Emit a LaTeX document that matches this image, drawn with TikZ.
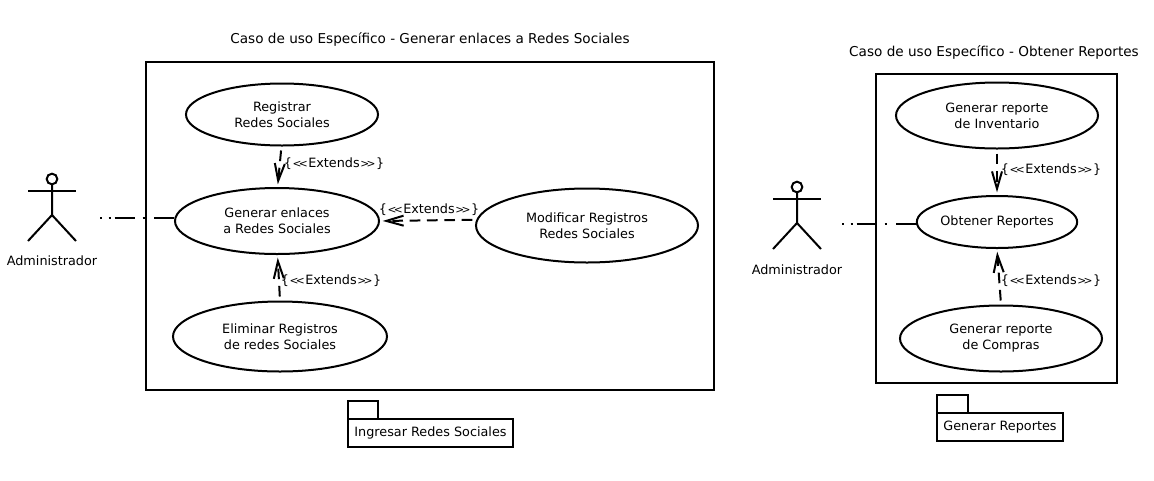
\documentclass[tikz,border=0pt]{standalone}
\usepackage{fontspec}
\setmainfont{DejaVu Sans}
\usetikzlibrary{shapes.geometric,arrows.meta}
\tikzset{
  x=0.75pt,y=-0.75pt,
  line/.style={line width=1.5pt,black},
  uc/.style={line,draw,ellipse,inner sep=0pt,align=center,font=\fontsize{9.6pt}{12pt}\selectfont},
  lbl/.style={inner sep=0pt,font=\fontsize{9.6pt}{12pt}\selectfont},
  titl/.style={inner sep=0pt,font=\fontsize{10.2pt}{12pt}\selectfont},
  ext/.style={line,dash pattern=on 8pt off 5pt,-{Straight Barb[length=13pt,width=7.5pt,line width=1.5pt]},shorten <=3pt,shorten >=2pt},
  assoc/.style={line,dash pattern=on 1.5pt off 5pt on 1.5pt off 3pt on 15pt off 6pt on 1.5pt off 7pt on 30pt},
  frameb/.style={line,draw,inner sep=0pt},
}
\newcommand{\stick}[2]{%
  \begin{scope}[shift={(#1,#2)}]
    \draw[line] (0,0) circle[radius=4pt];
    \draw[line] (-24,12) -- (24,12);
    \draw[line] (0,5.5) -- (0,36) -- (-24,62);
    \draw[line] (0,36) -- (24,62);
  \end{scope}}
\newcommand{\exttext}{\{\kern0.4pt{\fontsize{8pt}{12pt}\selectfont <\kern-2pt<}\kern0.4pt Extends\kern0.4pt{\fontsize{8pt}{12pt}\selectfont >\kern-2pt>}\kern0.4pt\}}
\begin{document}
\begin{tikzpicture}
\useasboundingbox (0,0) rectangle (1154,480);
% frames
\node[frameb,minimum width=426pt,minimum height=246pt] (fa) at (430,226) {};
\node[frameb,minimum width=180.75pt,minimum height=231.75pt] (fb) at (996.5,228.5) {};
\node[titl] (ta) at (430,39) {Caso de uso Específico - Generar enlaces a Redes Sociales};
\node[titl] (tb) at (994,52) {Caso de uso Específico - Obtener Reportes};
% actors
\stick{52}{179}
\stick{797}{187}
\node[lbl] (aa) at (52,261) {Administrador};
\node[lbl] (ab) at (797,270) {Administrador};
\coordinate (ca) at (100,217.5);
\coordinate (cb) at (842,223.5);
% use cases
\node[uc,minimum width=144pt,minimum height=46.5pt] (reg) at (282,114.5) {Registrar\\Redes Sociales};
\node[uc,minimum width=153pt,minimum height=49.5pt] (gen) at (277,221) {Generar enlaces\\a Redes Sociales};
\node[uc,minimum width=166.5pt,minimum height=55.5pt] (mod) at (587,225.5) {Modificar Registros\\Redes Sociales};
\node[uc,minimum width=160.5pt,minimum height=52.5pt] (eli) at (280,336.5) {Eliminar Registros\\de redes Sociales};
\node[uc,minimum width=151.5pt,minimum height=49.5pt] (rin) at (997,115.5) {Generar reporte\\de Inventario};
\node[uc,minimum width=120pt,minimum height=39pt] (obt) at (997,222) {Obtener Reportes};
\node[uc,minimum width=151.5pt,minimum height=49.5pt] (rco) at (1001,338.5) {Generar reporte\\de Compras};
% connectors
\draw[assoc] (ca) -- (gen.west |- ca);
\draw[assoc] (cb) -- (obt.west |- cb);
\draw[ext] (reg.-91) -- (gen.89);
\draw[ext] (eli.north) -- (gen.-89);
\draw[ext] (mod.177) -- (gen.0);
\draw[ext] (rin.south) -- (obt.north);
\draw[ext] (rco.north) -- (obt.south);
% labels
\node[lbl] (la) at (334,164) {\exttext};
\node[lbl] (lb) at (331,281) {\exttext};
\node[lbl] (lc) at (429,210) {\exttext};
\node[lbl] (ld) at (1051,170) {\exttext};
\node[lbl] (le) at (1051,281) {\exttext};
% packages
\draw[line] (348,419) rectangle (378,401);
\node[frameb,lbl,minimum width=123.75pt,minimum height=21pt] (pa) at (430.5,433) {Ingresar Redes Sociales};
\draw[line] (937,413) rectangle (968,395);
\node[frameb,lbl,minimum width=94.5pt,minimum height=21pt] (pb) at (1000,427) {Generar Reportes};
\end{tikzpicture}
\end{document}
